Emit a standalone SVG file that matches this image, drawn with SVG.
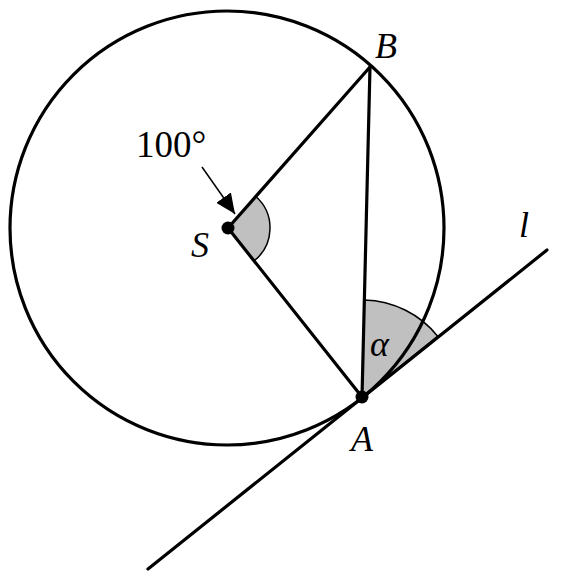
<svg xmlns="http://www.w3.org/2000/svg" width="568" height="583" viewBox="0 0 568 583">
<defs>
<style>
.ln{stroke:#000;stroke-width:3.2;fill:none;stroke-linecap:round}
.sec{fill:#c0c0c0;stroke:#000;stroke-width:1.5}
.lbl{font-family:"Liberation Serif","DejaVu Serif",serif;font-style:italic;font-size:36px;fill:#000}
.num{font-family:"Liberation Serif","DejaVu Serif",serif;font-size:37px;fill:#000}
</style>
<marker id="ah" viewBox="0 0 20 18" refX="20" refY="9" markerWidth="20" markerHeight="18" markerUnits="userSpaceOnUse" orient="auto">
<path d="M0,0 L20,9 L0,18 Z" fill="#000"/>
</marker>
</defs>
<g id="angles">
<path class="sec" d="M228,228 L255.8,196.5 A42,42 0 0 1 254.1,260.9 Z"/>
<path class="sec" d="M362,397 L364.4,300 A97,97 0 0 1 437.7,336.3 Z"/>
</g>
<g id="circle">
<circle class="ln" cx="227" cy="228" r="217"/>
</g>
<g id="connectors">
<line class="ln" x1="228" y1="228" x2="370" y2="67"/>
<line class="ln" x1="228" y1="228" x2="362" y2="397"/>
<line class="ln" x1="370" y1="67" x2="362" y2="397"/>
<line class="ln" x1="148" y1="569" x2="547" y2="250"/>
<line x1="202" y1="167" x2="235" y2="214" stroke="#000" stroke-width="1.5" marker-end="url(#ah)"/>
</g>
<g id="S">
<circle cx="228" cy="228" r="6.5" fill="#000"/>
<text class="lbl" x="191" y="257">S</text>
</g>
<g id="A">
<circle cx="362" cy="397" r="6.5" fill="#000"/>
<text class="lbl" x="351" y="451">A</text>
</g>
<g id="B">
<text class="lbl" x="375" y="58">B</text>
</g>
<g id="l">
<text class="lbl" x="519" y="237">l</text>
</g>
<g id="alpha">
<text class="lbl" x="370" y="356">α</text>
</g>
<g id="angle-label">
<text class="num" x="136" y="157">100°</text>
</g>
</svg>
